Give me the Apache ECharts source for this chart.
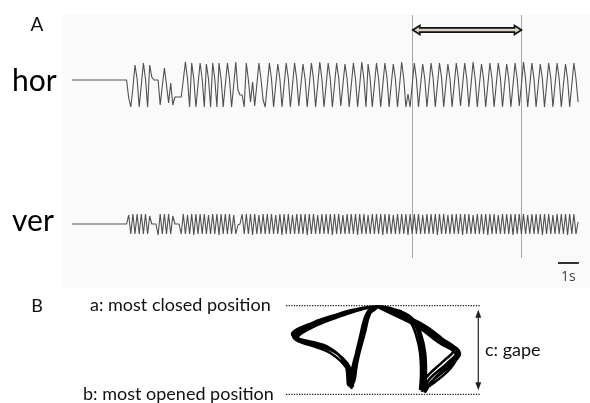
<!DOCTYPE html>
<html>
<head>
<meta charset="utf-8">
<script src="https://cdn.jsdelivr.net/npm/echarts@6/dist/echarts.min.js"></script>
<style>
  html, body { margin: 0; padding: 0; background: #fff; }
  #chart { width: 590px; height: 403px; }
</style>
</head>
<body>
<div id="chart"></div>
<script>
// Jaw tracking recording, sampled at 10 Hz (displacement in arbitrary units)
const SAMPLE_DT = 0.1; // seconds per sample

// horizontal (lateral) jaw displacement
const horTrace = [
  0, 0, 0, 0, 0, 0, 0, 0, 0, 0,
  0, 0, 0, 0, 0, 0, 0, 0, 0, 0,
  0, 0, 0, 0, 0, 0, 0, -18, -27, -8,
  15, 1, -27, -5, 17, 1, -27, 15, 3, 0,
  0, 0, -25, -6, 12, -5, -23, -3, -25, -17,
  -17, -17, -17, 0, 18, 1, -27, 17, 1, -27,
  -5, 17, 1, -27, 16, 1, -27, 17, 1, -27,
  17, 1, -27, -5, 17, 1, -27, -5, 18, -10,
  -15, -15, -27, 17, 0, -22, -2, -26, -5, 17,
  1, -20, -27, -5, 17, 1, -27, -5, 16, 1,
  -27, -5, 17, 2, -27, -5, 17, 1, -26, -5,
  16, 1, -27, -5, 17, 1, -27, -5, 18, 1,
  -27, -5, 17, 1, -27, -5, 17, 2, -26, -5,
  16, 1, -27, -5, 17, 1, -27, -5, 18, 1,
  -27, 16, 1, -27, -5, 17, 1, -27, -5, 17,
  2, -27, -5, 16, 1, -27, -5, 18, 1, -27,
  -14, -27, -5, 17, 1, -27, -5, 16, 1, -27,
  -5, 17, 1, -27, -5, 17, 2, -27, -5, 16,
  1, -27, -5, 17, 1, -26, -5, 17, 1, -27,
  -5, 18, 1, -27, -5, 16, 1, -27, -5, 17,
  1, -27, -5, 17, 2, -27, -5, 16, 1, -27,
  -5, 17, 1, -26, -5, 18, 1, -27, -5, 17,
  1, -27, -5, 16, 1, -27, -5, 17, 2, -27,
  -5, 17, 1, -27, -5, 16, 1, -27, -5, 17,
  1, -22
];

// vertical jaw displacement
const verTrace = [
  0, 0, 0, 0, 0, 0, 0, 0, 0, 0,
  0, 0, 0, 0, 0, 0, 0, 0, 0, 0,
  0, 0, 0, 0, 0, 0, 0, 9, -10, 10,
  -10, 10, -10, 10, -10, 10, -10, 8, 0, 0,
  0, -11, 10, -10, 10, -10, 10, -10, 8, 0,
  0, 0, -10, 10, -10, 9, -10, 10, -11, 10,
  -10, 10, -10, 10, -10, 9, -10, 10, -10, 10,
  -11, 10, -10, 10, -10, 10, -10, 9, -10, -1,
  0, 10, -10, 10, -10, 10, -11, 10, -10, 9,
  -10, 10, -10, 10, -10, 10, -10, 9, -10, 10,
  -11, 10, -10, 10, -10, 9, -10, 10, -10, 10,
  -10, 10, -11, 10, -10, 10, -10, 9, -10, 10,
  -10, 10, -10, 10, -11, 10, -10, 10, -10, 9,
  -10, 10, -10, 10, -10, 10, -11, 10, -10, 10,
  -10, 9, -10, 10, -10, 10, -10, 10, -11, 10,
  -10, 10, -10, 9, -10, 10, -10, 10, -10, 10,
  -11, 10, -10, 10, -10, 10, -10, 9, -10, 10,
  -10, 10, -10, 10, -11, 10, -10, 10, -10, 9,
  -10, 10, -10, 10, -10, 10, -11, 10, -10, 10,
  -10, 9, -10, 10, -10, 10, -10, 10, -11, 10,
  -10, 10, -10, 9, -10, 10, -10, 10, -10, 10,
  -11, 10, -10, 10, -10, 10, -10, 9, -10, 10,
  -10, 10, -10, 10, -11, 10, -10, 10, -10, 9,
  -10, 10, -10, 10, -10, 10, -11, 10, -10, 10,
  -10, 2
];

const traceLabels = ['hor', 'ver'];

// analysed window (s) and time scale bar
const windowStart = 16.18;
const windowEnd = 21.38;
const scaleBarStart = 23.14;
const scaleBarLength = 1; // s
const scaleBarLabel = '1s';
const timeSpan = 24.667; // s shown across the trace area

// frontal-plane chewing pattern: [lateral, vertical] per cycle
const gape = 10;
const gapeArrowX = 19.63;
const guideFrom = 0.4, guideTo = 19.8;
const chewCycle1 = [[9.5,-0.1],[8.7,-0.7],[8.0,-3.3],[7.3,-6.3],[7.0,-8.8],[6.9,-9.2],[6.5,-6.7],[4.8,-4.8],[1.0,-3.2],[3.1,-1.9],[5.8,-0.9],[7.8,-0.3],[9.5,-0.1],[10.7,-0.3],[11.9,-0.7],[13.0,-1.6],[13.6,-3.0],[14.0,-5.1],[14.1,-7.5],[14.0,-9.7],[14.8,-8.2],[16.5,-6.5],[17.5,-5.2],[15.8,-3.9],[13.8,-2.2],[11.5,-1.0],[9.5,-0.1]];
const chewCycle2 = [[9.4,-0.05],[8.5,-0.8],[7.8,-3.5],[7.2,-6.5],[6.9,-8.9],[7.1,-9.1],[6.8,-7.0],[5.2,-5.2],[1.4,-3.5],[3.4,-2.0],[6.0,-0.8],[8.0,-0.25],[9.6,-0.05],[10.8,-0.25],[12.0,-0.8],[13.2,-1.7],[13.8,-3.2],[14.2,-5.4],[14.3,-7.8],[14.2,-9.6],[15.0,-8.5],[16.8,-6.8],[17.8,-5.4],[16.0,-3.8],[14.0,-2.1],[11.6,-0.9],[9.5,-0.05]];
const chewCycle3 = [[9.5,-0.15],[8.8,-0.9],[8.2,-3.4],[7.5,-6.4],[7.2,-8.6],[6.7,-9.0],[6.3,-6.5],[4.5,-4.6],[1.2,-3.4],[3.0,-2.1],[5.6,-1.1],[7.7,-0.4],[9.4,-0.1],[10.6,-0.35],[11.7,-0.9],[12.8,-1.8],[13.4,-3.3],[13.8,-5.3],[13.9,-7.6],[13.8,-9.5],[14.5,-8.0],[16.2,-6.2],[17.2,-5.0],[15.6,-4.1],[13.6,-2.4],[11.3,-1.1],[9.5,-0.1]];
const chewCycle4 = [[9.6,-0.1],[8.9,-0.6],[8.3,-3.0],[7.6,-6.0],[7.2,-8.5],[7.0,-8.9],[6.7,-6.9],[5.0,-5.0],[1.6,-3.6],[3.5,-2.2],[6.1,-1.1],[8.0,-0.4],[9.6,-0.1],[10.8,-0.3],[12.1,-0.8],[13.3,-1.7],[13.9,-3.2],[14.3,-5.2],[14.4,-7.4],[14.3,-9.8],[15.1,-8.4],[16.6,-6.7],[17.4,-5.6],[15.6,-4.1],[13.6,-2.3],[11.7,-1.1],[9.6,-0.1]];
const chewCycle5 = [[9.4,-0.1],[8.6,-0.9],[7.9,-3.6],[7.1,-6.7],[6.8,-9.0],[7.0,-9.3],[6.6,-7.3],[4.9,-5.4],[1.1,-3.4],[3.2,-2.0],[5.9,-0.9],[7.9,-0.3],[9.5,-0.1],[10.7,-0.3],[11.8,-0.6],[13.1,-1.5],[13.7,-3.0],[14.1,-4.9],[14.2,-7.2],[14.1,-9.5],[15.2,-8.7],[16.9,-7.0],[17.6,-5.4],[15.9,-3.6],[13.9,-2.0],[11.4,-0.8],[9.5,-0.1]];

const panelLabels = ['A', 'B'];
const positionLabels = ['a: most closed position', 'b: most opened position', 'c: gape'];

const toSeries = arr => arr.map((v, i) => [+(i * SAMPLE_DT).toFixed(2), v]);
const chewPath = [].concat(chewCycle1, chewCycle2, chewCycle3, chewCycle4, chewCycle5);

const LABEL_FONT = 'Lato, "Open Sans", sans-serif';
const traceColor = '#505050';

const chart = echarts.init(document.getElementById('chart'), null, { renderer: 'canvas' });

const timeAxis = idx => ({ type: 'value', gridIndex: idx, min: 0, max: timeSpan, show: false });

chart.setOption({
  animation: false,
  backgroundColor: '#ffffff',
  grid: [
    { left: 72, top: 40, width: 518, height: 90 },     // hor
    { left: 72, top: 184, width: 518, height: 80 },    // ver
    { left: 72, top: 15, width: 518, height: 243 },    // window marks
    { left: 282, top: 305.7, width: 200, height: 88.6 } // chewing pattern
  ],
  xAxis: [
    timeAxis(0), timeAxis(1), timeAxis(2),
    { type: 'value', gridIndex: 3, min: 0, max: 20, show: false }
  ],
  yAxis: [
    { type: 'value', gridIndex: 0, min: -50, max: 40, show: false },
    { type: 'value', gridIndex: 1, min: -40, max: 40, show: false },
    { type: 'value', gridIndex: 2, min: 0, max: 1, show: false },
    { type: 'value', gridIndex: 3, min: -gape, max: 0, show: false }
  ],
  graphic: [
    { type: 'rect', z: -10, silent: true, shape: { x: 63, y: 15, width: 527, height: 273 }, style: { fill: '#fafafa' } },
    { type: 'text', style: { text: panelLabels[0], x: 37, y: 25, align: 'center', verticalAlign: 'middle', font: '19px ' + LABEL_FONT, fill: '#111' } },
    { type: 'text', style: { text: panelLabels[1], x: 37, y: 306, align: 'center', verticalAlign: 'middle', font: '18px ' + LABEL_FONT, fill: '#111' } },
    { type: 'text', style: { text: traceLabels[0], x: 12, y: 81, align: 'left', verticalAlign: 'middle', font: '30px ' + LABEL_FONT, fill: '#000' } },
    { type: 'text', style: { text: traceLabels[1], x: 12, y: 221, align: 'left', verticalAlign: 'middle', font: '30px ' + LABEL_FONT, fill: '#000' } },
    { type: 'text', style: { text: positionLabels[0], x: 90, y: 305.5, align: 'left', verticalAlign: 'middle', font: '18px ' + LABEL_FONT, fill: '#111' } },
    { type: 'text', style: { text: positionLabels[1], x: 83, y: 394.5, align: 'left', verticalAlign: 'middle', font: '18px ' + LABEL_FONT, fill: '#111' } },
    { type: 'text', style: { text: positionLabels[2], x: 485, y: 350.5, align: 'left', verticalAlign: 'middle', font: '18px ' + LABEL_FONT, fill: '#111' } }
  ],
  series: [
    {
      name: 'hor', type: 'line', xAxisIndex: 0, yAxisIndex: 0,
      data: toSeries(horTrace), showSymbol: false, silent: true,
      lineStyle: { color: traceColor, width: 1.1 }
    },
    {
      name: 'ver', type: 'line', xAxisIndex: 1, yAxisIndex: 1,
      data: toSeries(verTrace), showSymbol: false, silent: true,
      lineStyle: { color: traceColor, width: 1.1 }
    },
    {
      // window boundaries
      type: 'custom', xAxisIndex: 2, yAxisIndex: 2, silent: true,
      data: [[windowStart], [windowEnd]],
      renderItem: (params, api) => {
        const cs = params.coordSys;
        const x = Math.round(api.coord([api.value(0), 0])[0]) + 0.5;
        return { type: 'line', shape: { x1: x, y1: cs.y, x2: x, y2: cs.y + cs.height }, style: { stroke: '#a9a9a9', lineWidth: 1 } };
      }
    },
    {
      // double-headed arrow spanning the window
      type: 'custom', xAxisIndex: 2, yAxisIndex: 2, silent: true,
      data: [[windowStart, windowEnd]],
      renderItem: (params, api) => {
        const x1 = api.coord([api.value(0), 0])[0] + 1;
        const x2 = api.coord([api.value(1), 0])[0] + 0.5;
        const y = params.coordSys.y + 15, hw = 4.5, bw = 2.2, hl = 7;
        const pts = [
          [x1, y], [x1 + hl, y - hw], [x1 + hl, y - bw], [x2 - hl, y - bw], [x2 - hl, y - hw],
          [x2, y], [x2 - hl, y + hw], [x2 - hl, y + bw], [x1 + hl, y + bw], [x1 + hl, y + hw]
        ];
        return { type: 'polygon', shape: { points: pts }, style: { fill: '#d8d2c2', stroke: '#111', lineWidth: 1.7, lineJoin: 'miter' } };
      }
    },
    {
      // time scale bar
      type: 'custom', xAxisIndex: 2, yAxisIndex: 2, silent: true,
      data: [[scaleBarStart, scaleBarStart + scaleBarLength]],
      renderItem: (params, api) => {
        const x1 = api.coord([api.value(0), 0])[0];
        const x2 = api.coord([api.value(1), 0])[0];
        const y = params.coordSys.y + params.coordSys.height + 5;
        return {
          type: 'group',
          children: [
            { type: 'line', shape: { x1: x1, y1: y, x2: x2, y2: y }, style: { stroke: '#333', lineWidth: 2 } },
            { type: 'text', style: { text: scaleBarLabel, x: (x1 + x2) / 2, y: y + 14, align: 'center', verticalAlign: 'middle', font: '14px "Open Sans", sans-serif', fill: '#444' } }
          ]
        };
      }
    },
    {
      // most closed / most opened guide lines
      type: 'custom', xAxisIndex: 3, yAxisIndex: 3, silent: true,
      data: [[guideFrom, guideTo, 0], [guideFrom, guideTo, -gape]],
      renderItem: (params, api) => {
        const p1 = api.coord([api.value(0), api.value(2)]);
        const p2 = api.coord([api.value(1), api.value(2)]);
        return { type: 'line', shape: { x1: p1[0], y1: p1[1], x2: p2[0], y2: p2[1] }, style: { stroke: '#222', lineWidth: 1.3, lineDash: [1.3, 1.3] } };
      }
    },
    {
      // gape arrow
      type: 'custom', xAxisIndex: 3, yAxisIndex: 3, silent: true,
      data: [[gapeArrowX, 0, -gape]],
      renderItem: (params, api) => {
        const top = api.coord([api.value(0), api.value(1)]);
        const bot = api.coord([api.value(0), api.value(2)]);
        const x = top[0], y1 = top[1] + 4, y2 = bot[1] - 4, hw = 3, hl = 8;
        return {
          type: 'group',
          children: [
            { type: 'line', shape: { x1: x, y1: y1 + hl - 1, x2: x, y2: y2 - hl + 1 }, style: { stroke: '#222', lineWidth: 1.2 } },
            { type: 'polygon', shape: { points: [[x, y1], [x - hw, y1 + hl], [x + hw, y1 + hl]] }, style: { fill: '#222' } },
            { type: 'polygon', shape: { points: [[x, y2], [x - hw, y2 - hl], [x + hw, y2 - hl]] }, style: { fill: '#222' } }
          ]
        };
      }
    },
    {
      name: 'chewing pattern', type: 'line', xAxisIndex: 3, yAxisIndex: 3,
      data: chewPath, showSymbol: false, silent: true, smooth: 0.4,
      lineStyle: { color: '#000', width: 2.5 }
    }
  ]
});
</script>
</body>
</html>
